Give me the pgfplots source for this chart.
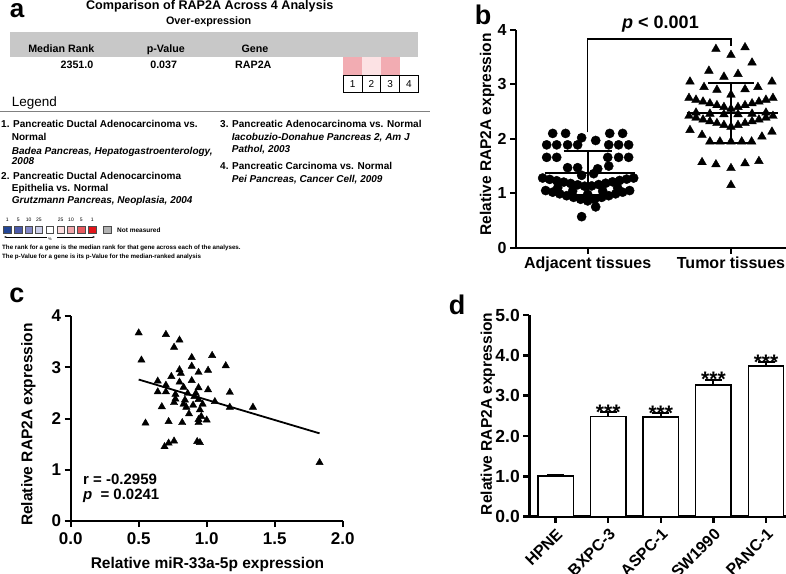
\documentclass[border=0pt]{standalone}
\usepackage{fontspec}
\setmainfont{Liberation Sans}
\usepackage{pgfplots}
\pgfplotsset{compat=1.18}
\usetikzlibrary{arrows.meta}
\definecolor{hdrgray}{RGB}{200,200,200}
\definecolor{pk1}{RGB}{242,172,178}
\definecolor{pk2}{RGB}{252,226,228}
\definecolor{lc1}{RGB}{35,70,150}
\definecolor{lc2}{RGB}{75,90,170}
\definecolor{lc3}{RGB}{130,135,200}
\definecolor{lc4}{RGB}{205,208,235}
\definecolor{lc6}{RGB}{252,220,222}
\definecolor{lc7}{RGB}{240,165,170}
\definecolor{lc8}{RGB}{232,90,95}
\definecolor{lc9}{RGB}{225,20,25}
\newcommand{\fs}[1]{\fontsize{#1}{#1}\selectfont}
\pgfplotsset{gp/.style={
  scale only axis, axis lines*=left,
  axis line style={line width=2pt},
  tick style={black, line width=2pt},
  tick align=outside, major tick length=6pt,
  ticklabel style={font=\fs{16}\bfseries},
  label style={font=\fs{15.5}\bfseries},
  /pgf/number format/assume math mode=true,
  clip=false}}
\begin{document}
\begin{tikzpicture}[x=1pt,y=1pt]
\useasboundingbox (0,0) rectangle (786,573);

% ---- panel a: Oncomine summary
\node[anchor=base, font=\fs{26}\bfseries] at (17,555) {a};
\node[anchor=base, font=\fs{12.6}\bfseries] at (209.7,563) {Comparison of RAP2A Across 4 Analysis};
\node[anchor=base, font=\fs{10.8}\bfseries] at (208.7,548.7) {Over-expression};
\fill[hdrgray] (10,541) rectangle (418,516);
\begin{scope}[font=\fs{10.7}\bfseries]
\node[anchor=base] at (61.3,520.7) {Median Rank};
\node[anchor=base] at (165.8,520.7) {p-Value};
\node[anchor=base] at (255,520.7) {Gene};
\node[anchor=base] at (77,504.7) {2351.0};
\node[anchor=base] at (163.7,504.7) {0.037};
\node[anchor=base] at (253.3,504.7) {RAP2A};
\end{scope}
\fill[pk1] (343.3,516.3) rectangle (362.05,498);
\fill[pk2] (362.05,516.3) rectangle (380.8,498);
\fill[pk1] (380.8,516.3) rectangle (399.55,498);
\foreach \i in {1,...,4}{
  \draw[line width=0.9pt] ({343.3+(\i-1)*18.75},498) rectangle ({343.3+\i*18.75},480.7);
  \node[font=\fs{10}] at ({343.3+(\i-0.5)*18.75},489.3) {\i};
}
\node[anchor=base west, font=\fs{13.5}, inner sep=0] at (11.7,466.3) {Legend};
\draw[gray, line width=0.8pt] (0,462) -- (430,462);
\begin{scope}[font=\fs{10}\bfseries, inner sep=0]
\node[anchor=base west] at (1,445) {1. Pancreatic Ductal Adenocarcinoma vs.};
\node[anchor=base west] at (11.7,432.3) {Normal};
\node[anchor=base west] at (11.7,418.7) {\itshape Badea Pancreas, Hepatogastroenterology,};
\node[anchor=base west] at (11.7,408) {\itshape 2008};
\node[anchor=base west] at (1,393.7) {2. Pancreatic Ductal Adenocarcinoma};
\node[anchor=base west] at (11.7,381.3) {Epithelia vs. Normal};
\node[anchor=base west] at (11.7,369) {\itshape Grutzmann Pancreas, Neoplasia, 2004};
\node[anchor=base west] at (220,445) {3. Pancreatic Adenocarcinoma vs. Normal};
\node[anchor=base west] at (231.7,432.3) {\itshape Iacobuzio-Donahue Pancreas 2, Am J};
\node[anchor=base west] at (231.7,420.3) {\itshape Pathol, 2003};
\node[anchor=base west] at (220,403) {4. Pancreatic Carcinoma vs. Normal};
\node[anchor=base west] at (231.7,390.3) {\itshape Pei Pancreas, Cancer Cell, 2009};
\end{scope}
\foreach \cx/\cc in {7.3/lc1,18.3/lc2,28.7/lc3,39/lc4,50/white,60.7/lc6,71/lc7,81.3/lc8,92.3/lc9,107.3/gray!60}{
  \filldraw[fill=\cc, draw=black!70, line width=0.5pt] (\cx-3.7,339.3) rectangle (\cx+3.7,346.7);
}
\foreach \cx/\t in {7.3/1,18.3/5,28.7/10,39/25,60.7/25,71/10,81.3/5,92.3/1}{
  \node[font=\fs{5}] at (\cx,353) {\t};
}
\draw[-{Stealth[length=2.5pt]}, line width=0.5pt] (47,336) -- (4,336);
\draw[-{Stealth[length=2.5pt]}, line width=0.5pt] (57,336) -- (95,336);
\node[font=\fs{4}] at (50,334) {\%};
\node[anchor=west, font=\fs{6.5}\bfseries, inner sep=0] at (117,343) {Not measured};
\node[anchor=base west, font=\fs{6.2}\bfseries, inner sep=0] at (2,323) {The rank for a gene is the median rank for that gene across each of the analyses.};
\node[anchor=base west, font=\fs{6.2}\bfseries, inner sep=0] at (2,314) {The p-Value for a gene is its p-Value for the median-ranked analysis};

% ---- panel b
\node[anchor=base, font=\fs{27}\bfseries] at (483,548) {b};
\node[anchor=base, font=\fs{18}\bfseries] at (660.5,544) {\itshape p\upshape\ < 0.001};
\begin{axis}[gp, at={(516pt,325.3pt)}, anchor=south west, width=270pt, height=217.7pt,
  xmin=0.5, xmax=2.384, ymin=0, ymax=4,
  xtick={1,2}, xticklabels={Adjacent tissues, Tumor tissues},
  ytick={0,1,2,3,4},
  ylabel={Relative RAP2A expression},
  ylabel style={at={(axis description cs:-0.1074,0.52)}, anchor=center}]
\addplot[only marks, mark=*, mark size=4.6pt, mark options={fill=black, draw=black}] coordinates {
(0.756,2.10)(0.846,2.10)(1.154,2.10)(1.244,2.10)
(0.958,2.02)(1.056,1.97)
(0.714,1.89)(0.784,1.89)(0.860,1.89)(0.930,1.89)(1.147,1.89)(1.216,1.89)(1.286,1.89)
(0.714,1.66)(0.784,1.66)(1.140,1.66)(1.216,1.66)(1.286,1.66)
(0.860,1.47)(0.930,1.47)(1.070,1.45)(1.147,1.50)
(0.958,1.33)(1.042,1.36)
(0.686,1.28)(0.735,1.255)(0.784,1.23)(0.833,1.205)(0.881,1.18)(0.930,1.155)(0.979,1.13)
(1.028,1.135)(1.077,1.16)(1.126,1.185)(1.174,1.21)(1.223,1.235)(1.272,1.26)(1.321,1.28)
(0.791,1.10)(0.895,1.04)(1.0,0.98)(1.105,1.04)(1.209,1.10)
(0.707,1.05)(0.756,1.02)(0.805,0.99)(0.853,0.955)(0.902,0.925)(0.951,0.89)(1.0,0.86)
(1.049,0.89)(1.098,0.925)(1.147,0.955)(1.195,0.99)(1.244,1.02)(1.293,1.05)
(1.056,0.75)(0.958,0.57)};
\addplot[only marks, mark=triangle*, mark size=5pt, mark options={fill=black, draw=black}] coordinates {
(1.895,3.65)(2.098,3.68)(2.0,3.54)(2.147,3.40)(1.846,3.25)(1.951,3.14)(2.049,3.19)
(1.714,3.05)(2.286,3.05)(1.812,2.95)(2.188,2.95)(1.902,2.90)(2.098,2.91)(2.0,2.81)
(1.707,2.75)(1.756,2.717)(1.805,2.683)(1.853,2.65)(1.902,2.617)(1.951,2.583)(2.0,2.55)
(2.049,2.583)(2.098,2.617)(2.147,2.65)(2.195,2.683)(2.244,2.717)(2.293,2.75)
(1.756,2.48)(1.853,2.46)(1.951,2.45)(2.049,2.45)(2.147,2.46)(2.244,2.48)
(1.707,2.42)(1.756,2.387)(1.805,2.353)(1.853,2.32)(1.902,2.287)(1.951,2.253)(2.0,2.22)
(2.049,2.253)(2.098,2.287)(2.147,2.32)(2.195,2.353)(2.244,2.387)(2.293,2.42)
(1.714,2.16)(2.286,2.13)(1.798,2.07)(2.216,2.04)
(1.853,1.95)(1.923,1.95)(2.0,1.95)(2.075,1.95)(2.144,1.95)
(1.798,1.57)(1.895,1.53)(2.0,1.46)(2.098,1.55)(2.195,1.59)
(2.0,1.15)};
% mean and SD
\addplot[line width=2pt] coordinates {(0.70,1.37)(1.33,1.37)};
\addplot[line width=2pt] coordinates {(1,0.97)(1,1.77)};
\addplot[line width=2pt] coordinates {(0.833,1.77)(1.167,1.77)};
\addplot[line width=2pt] coordinates {(0.833,0.97)(1.167,0.97)};
\addplot[line width=2pt] coordinates {(1.69,2.47)(2.33,2.47)};
\addplot[line width=2pt] coordinates {(2,1.92)(2,3.02)};
\addplot[line width=2pt] coordinates {(1.84,3.02)(2.16,3.02)};
\addplot[line width=2pt] coordinates {(1.84,1.92)(2.16,1.92)};
% significance bracket
\addplot[line width=1.6pt] coordinates {(1,2.12)(1,3.83)(2,3.83)(2,3.70)};
\end{axis}

% ---- panel c
\node[anchor=base, font=\fs{27}\bfseries] at (17,270) {c};
\begin{axis}[gp, at={(70.7pt,52pt)}, anchor=south west, width=272pt, height=205pt,
  xmin=0, xmax=2, ymin=0, ymax=4,
  xtick={0,0.5,1,1.5,2}, ytick={0,1,2,3,4},
  ticklabel style={font=\fs{17}\bfseries},
  xticklabel style={yshift=-2pt, /pgf/number format/.cd, fixed, fixed zerofill, precision=1},
  xlabel={Relative miR-33a-5p expression},
  ylabel={Relative RAP2A expression},
  xlabel style={at={(axis description cs:0.503,0)}, anchor=center, yshift=-43pt},
  ylabel style={at={(axis description cs:-0.156,0.47)}, anchor=center}]
\addplot[only marks, mark=triangle*, mark size=4.2pt, mark options={fill=black, draw=black}] coordinates {
(0.50,3.67)(0.70,3.64)(0.80,3.53)(0.76,3.39)(0.52,3.14)(0.89,3.19)(1.04,3.23)
(0.89,3.02)(1.14,3.03)(0.80,2.95)(0.81,2.88)(0.94,2.90)(1.01,2.94)(0.74,2.82)
(0.64,2.73)(0.70,2.65)(0.80,2.71)(0.89,2.74)(0.83,2.61)(0.94,2.60)(1.01,2.56)
(0.64,2.52)(0.70,2.52)(0.77,2.47)(0.86,2.49)(0.92,2.49)(1.17,2.51)(0.77,2.38)
(0.91,2.43)(0.94,2.37)(1.06,2.33)(0.76,2.31)(0.83,2.28)(0.90,2.26)(0.97,2.28)
(0.67,2.23)(0.85,2.22)(1.17,2.22)(1.34,2.22)(0.95,2.17)(0.87,2.09)(0.96,2.04)
(0.94,1.98)(1.00,1.97)(0.55,1.91)(0.72,1.94)(0.82,1.92)(0.94,1.92)(0.84,2.36)
(0.76,1.56)(0.72,1.52)(0.69,1.45)(0.93,1.55)(0.95,1.53)(1.83,1.14)};
\addplot[line width=1.8pt] coordinates {(0.5,2.76)(1.83,1.71)};
\end{axis}
\node[anchor=base west, font=\fs{15}\bfseries, inner sep=0] at (83,89) {r = -0.2959};
\node[anchor=base west, font=\fs{15}\bfseries, inner sep=0] at (83,73.7) {\itshape p\upshape\hspace{4pt} = 0.0241};

% ---- panel d
\node[anchor=base, font=\fs{27}\bfseries] at (457,258) {d};
\begin{axis}[gp, at={(529.3pt,56.3pt)}, anchor=south west, width=256.7pt, height=201.7pt,
  axis line style={line width=2.5pt}, tick style={line width=2.5pt},
  xmin=-0.5, xmax=4.38, ymin=0, ymax=5,
  ybar, bar width=35.5pt,
  xtick={0,1,2,3,4}, xticklabels={HPNE,BXPC-3,ASPC-1,SW1990,PANC-1},
  xticklabel style={rotate=45, anchor=north east, font=\fs{16}\bfseries},
  ytick={0,1,2,3,4,5},
  yticklabel style={font=\fs{17.5}\bfseries, /pgf/number format/.cd, fixed, fixed zerofill, precision=1},
  ylabel={Relative RAP2A expression},
  ylabel style={at={(axis description cs:-0.161,0.51)}, anchor=center}]
\addplot[fill=white, draw=black, line width=1.4pt,
  error bars/.cd, y dir=plus, y explicit,
  error bar style={line width=2pt},
  error mark options={rotate=90, mark size=8.5pt, line width=2pt}]
  coordinates {(0,1.01) +- (0,0.03) (1,2.48) +- (0,0.11) (2,2.47) +- (0,0.09) (3,3.26) +- (0,0.13) (4,3.74) +- (0,0.09)};
\node[anchor=base, yshift=-7pt, font=\fs{21}\bfseries] at (axis cs:1,2.59) {***};
\node[anchor=base, yshift=-7pt, font=\fs{21}\bfseries] at (axis cs:2,2.56) {***};
\node[anchor=base, yshift=-7pt, font=\fs{21}\bfseries] at (axis cs:3,3.39) {***};
\node[anchor=base, yshift=-7pt, font=\fs{21}\bfseries] at (axis cs:4,3.83) {***};
\end{axis}
\end{tikzpicture}
\end{document}
